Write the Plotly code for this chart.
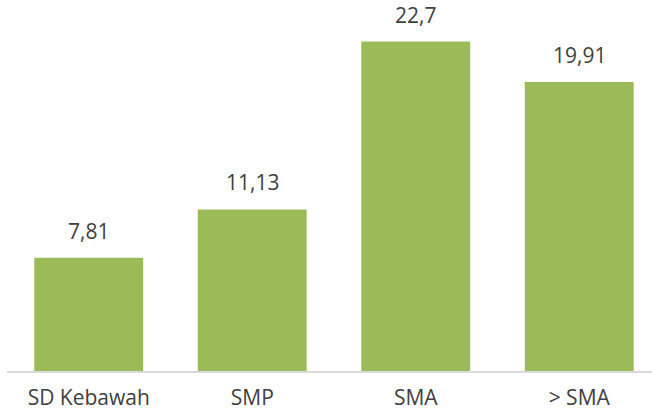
import plotly.graph_objects as go

categories = ["SD Kebawah", "SMP", "SMA", "> SMA"]
values = [7.81, 11.13, 22.7, 19.91]
labels = [f"{v:g}".replace(".", ",") for v in values]

BAR = "#9BBB59"
TXT = "#404040"
FONT = "Open Sans"

fig = go.Figure(
    go.Bar(x=categories, y=values, marker=dict(color=BAR, line=dict(width=0)),
           hoverinfo="skip")
)

for c, v, t in zip(categories, values, labels):
    fig.add_annotation(x=c, y=v, text=t, showarrow=False, yanchor="bottom",
                       yshift=11, font=dict(family=FONT, size=21, color=TXT))

fig.update_layout(
    width=652, height=414,
    margin=dict(l=6.5, r=0, t=0, b=43),
    paper_bgcolor="white", plot_bgcolor="white",
    bargap=0.334, showlegend=False,
    xaxis=dict(range=[-0.5, 3.445], showline=True, linecolor="#D9D9D9",
               linewidth=1.5, ticks="outside", ticklen=7, tickcolor="white",
               automargin=False,
               tickfont=dict(family=FONT, size=21, color=TXT), showgrid=False),
    yaxis=dict(range=[0, 25.56], visible=False, showgrid=False, automargin=False),
)

fig.write_html("out.html", config={"displayModeBar": False},
               post_script="document.body.style.margin='0';")
